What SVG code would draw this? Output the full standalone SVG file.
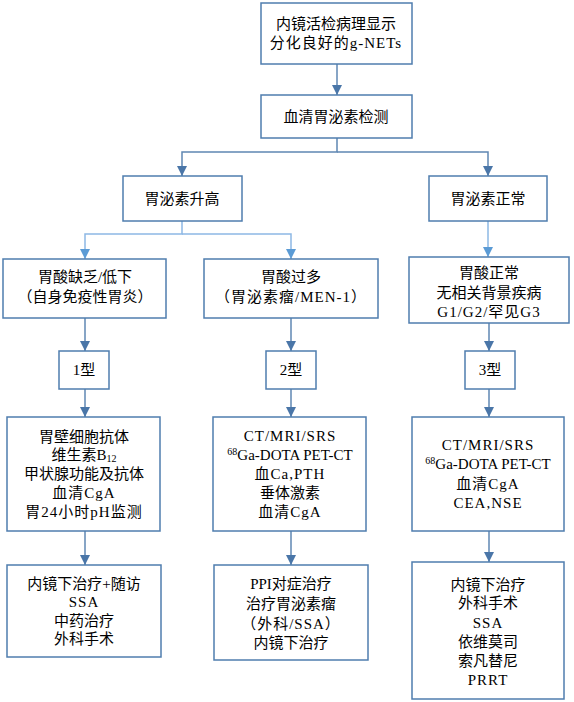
<svg xmlns="http://www.w3.org/2000/svg" width="574" height="702" viewBox="0 0 574 702">
<style>
.box{fill:#ffffff;stroke:#4F7DAE;stroke-width:1.5}
.t{font-family:"Liberation Serif","Noto Sans CJK SC",serif;font-size:15px;fill:#000;text-anchor:middle;dominant-baseline:central}
.w{letter-spacing:1px}
.c{fill:none;stroke:#5F87B3;stroke-width:1.5}
.cl{fill:none;stroke:#8DB8E5;stroke-width:1.5}
</style>
<defs>
<marker id="ad" viewBox="0 0 10 10" refX="10" refY="5" markerWidth="10" markerHeight="10" markerUnits="userSpaceOnUse" orient="auto">
<path d="M0,0 L10,5 L0,10 Z" fill="#4A76A8"/>
</marker>
<marker id="al" viewBox="0 0 10 10" refX="10" refY="5" markerWidth="10" markerHeight="10" markerUnits="userSpaceOnUse" orient="auto">
<path d="M0,0 L10,5 L0,10 Z" fill="#5B9BD5"/>
</marker>
</defs>
<rect width="574" height="702" fill="#ffffff"/>
<g id="connectors">
<path class="c" d="M337,64 V95" marker-end="url(#ad)"/>
<path class="c" d="M337,138 V152 H182 V176" marker-end="url(#ad)"/>
<path class="c" d="M337,152 H488 V176" marker-end="url(#ad)"/>
<path class="cl" d="M182,221 V234 H85 V259" marker-end="url(#al)"/>
<path class="cl" d="M182,234 H291 V259" marker-end="url(#al)"/>
<path class="cl" d="M488,221 V257" marker-end="url(#al)"/>
<path class="c" d="M85,318 V351" marker-end="url(#ad)"/>
<path class="c" d="M291,318 V351" marker-end="url(#ad)"/>
<path class="c" d="M489,323 V351" marker-end="url(#ad)"/>
<path class="c" d="M85,389 V417" marker-end="url(#ad)"/>
<path class="c" d="M291,389 V417" marker-end="url(#ad)"/>
<path class="c" d="M489,389 V417" marker-end="url(#ad)"/>
<path class="c" d="M85,531 V565" marker-end="url(#ad)"/>
<path class="c" d="M291,531 V565" marker-end="url(#ad)"/>
<path class="c" d="M489,531 V562" marker-end="url(#ad)"/>
</g>
<g id="n-start">
<rect class="box" x="261" y="3" width="151" height="61"/>
<text class="t" x="336" y="24">内镜活检病理显示</text>
<text class="t w" x="336" y="43">分化良好的g-NETs</text>
</g>
<g id="n-test">
<rect class="box" x="261" y="95" width="151" height="43"/>
<text class="t" x="336" y="117">血清胃泌素检测</text>
</g>
<g id="n-high">
<rect class="box" x="123" y="176" width="119" height="45"/>
<text class="t" x="182" y="199">胃泌素升高</text>
</g>
<g id="n-normal">
<rect class="box" x="429" y="176" width="118" height="45"/>
<text class="t" x="488" y="199">胃泌素正常</text>
</g>
<g id="n-low-acid">
<rect class="box" x="3" y="259" width="163" height="59"/>
<text class="t" x="85" y="277">胃酸缺乏/低下</text>
<text class="t" x="85" y="297">（自身免疫性胃炎）</text>
</g>
<g id="n-high-acid">
<rect class="box" x="204" y="259" width="174" height="59"/>
<text class="t" x="291" y="277">胃酸过多</text>
<text class="t w" x="291" y="297">（胃泌素瘤/MEN-1）</text>
</g>
<g id="n-normal-acid">
<rect class="box" x="409" y="257" width="160" height="66"/>
<text class="t" x="489" y="273">胃酸正常</text>
<text class="t" x="489" y="293">无相关背景疾病</text>
<text class="t w" x="489" y="312">G1/G2/罕见G3</text>
</g>
<g id="n-type1">
<rect class="box" x="59" y="351" width="50" height="38"/>
<text class="t" x="84" y="370">1型</text>
</g>
<g id="n-type2">
<rect class="box" x="266" y="351" width="50" height="38"/>
<text class="t" x="291" y="370">2型</text>
</g>
<g id="n-type3">
<rect class="box" x="465" y="351" width="50" height="38"/>
<text class="t" x="490" y="370">3型</text>
</g>
<g id="n-exam1">
<rect class="box" x="7" y="417" width="153" height="114"/>
<text class="t" x="84" y="437">胃壁细胞抗体</text>
<text class="t" x="84" y="455">维生素B<tspan font-size="10" dy="3">12</tspan></text>
<text class="t" x="84" y="474">甲状腺功能及抗体</text>
<text class="t w" x="84" y="493">血清CgA</text>
<text class="t w" x="84" y="512">胃24小时pH监测</text>
</g>
<g id="n-exam2">
<rect class="box" x="213" y="417" width="153" height="114"/>
<text class="t w" x="290" y="436">CT/MRI/SRS</text>
<text class="t" x="290" y="455"><tspan font-size="10" dy="-4">68</tspan><tspan dy="4">Ga-DOTA PET-CT</tspan></text>
<text class="t w" x="290" y="474">血Ca,PTH</text>
<text class="t" x="290" y="493">垂体激素</text>
<text class="t w" x="290" y="512">血清CgA</text>
</g>
<g id="n-exam3">
<rect class="box" x="412" y="417" width="152" height="114"/>
<text class="t w" x="488" y="445">CT/MRI/SRS</text>
<text class="t" x="488" y="464"><tspan font-size="10" dy="-4">68</tspan><tspan dy="4">Ga-DOTA PET-CT</tspan></text>
<text class="t w" x="488" y="484">血清CgA</text>
<text class="t w" x="488" y="503">CEA,NSE</text>
</g>
<g id="n-treat1">
<rect class="box" x="7" y="565" width="154" height="92"/>
<text class="t" x="84" y="584">内镜下治疗+随访</text>
<text class="t w" x="84" y="602">SSA</text>
<text class="t" x="84" y="621">中药治疗</text>
<text class="t" x="84" y="639">外科手术</text>
</g>
<g id="n-treat2">
<rect class="box" x="214" y="565" width="154" height="95"/>
<text class="t" x="291" y="584">PPI对症治疗</text>
<text class="t" x="291" y="604">治疗胃泌素瘤</text>
<text class="t w" x="291" y="624">（外科/SSA）</text>
<text class="t" x="291" y="643">内镜下治疗</text>
</g>
<g id="n-treat3">
<rect class="box" x="412" y="562" width="152" height="137"/>
<text class="t" x="488" y="585">内镜下治疗</text>
<text class="t" x="488" y="603">外科手术</text>
<text class="t w" x="488" y="623">SSA</text>
<text class="t" x="488" y="642">依维莫司</text>
<text class="t" x="488" y="661">索凡替尼</text>
<text class="t w" x="488" y="680">PRRT</text>
</g>
</svg>
